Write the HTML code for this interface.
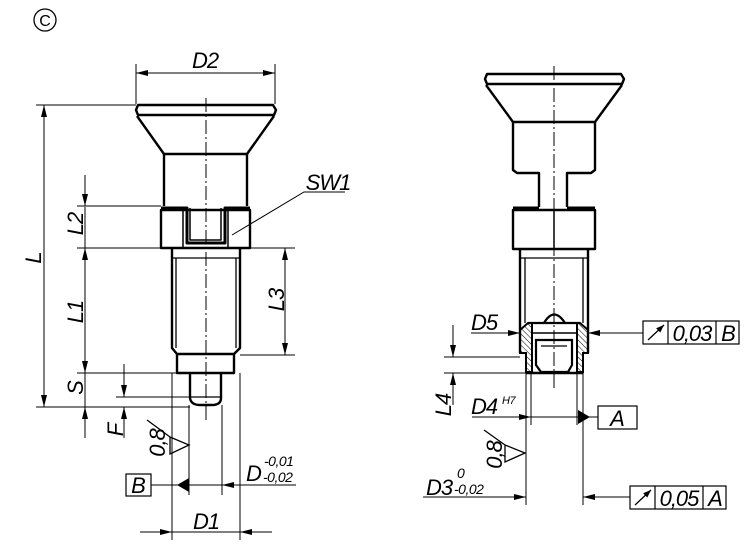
<!DOCTYPE html>
<html><head><meta charset="utf-8"><style>
html,body{margin:0;padding:0;background:#fff}
svg{display:block}
text{font-family:"Liberation Sans",sans-serif;font-style:italic;fill:#000}
</style></head><body>
<svg width="750" height="545" viewBox="0 0 750 545" xmlns="http://www.w3.org/2000/svg">
<defs>
<marker id="a" viewBox="0 0 12 6" refX="12" refY="3" markerWidth="12" markerHeight="6" orient="auto" markerUnits="userSpaceOnUse"><path d="M0,0 L12,3 L0,6 Z" fill="#000"/></marker>
<marker id="s" viewBox="0 0 8 6" refX="8" refY="3" markerWidth="8" markerHeight="6" orient="auto" markerUnits="userSpaceOnUse"><path d="M0,0 L8,3 L0,6 Z" fill="#000"/></marker>
<pattern id="h" width="4" height="4" patternUnits="userSpaceOnUse" patternTransform="rotate(-45)"><line x1="0" y1="0" x2="0" y2="4" stroke="#000" stroke-width="1"/></pattern>
</defs>
<circle cx="45" cy="20" r="11" fill="none" stroke="#000" stroke-width="1.3"/>
<text x="45" y="26" font-size="16" text-anchor="middle" style="font-style:normal">C</text>

<g fill="none" stroke="#000" stroke-width="2.4" stroke-linejoin="round">
<path d="M138,105 H273 L276,110 L274,115 H138 L136,110 Z"/>
<path d="M137,116 L164,154 H247 L274,116"/>
<path d="M164,154 V206 M247,154 V206"/>
<path d="M161,210 H250 V248 H161 Z"/>
<path d="M161,208 H187 V243 H225 V208 H250" stroke-width="3"/>
<path d="M190,208 V240 H221 V208" stroke-width="1.5"/>
<path d="M183,211 V247 M228,211 V247" stroke-width="1.5"/>
<path d="M172,248 V348 L177,354 H234 L240,348 V248"/>
<path d="M172,258 H240 M176,258 V348 M236,258 V348" stroke-width="1.3"/>
<path d="M177,354 V373 H234 V354"/>
<path d="M190,373 V398 Q191,405 200,405 H212 Q221,405 221,398 V373"/>
<path d="M190,397 H221" stroke-width="1.3"/>
<path d="M487,74 H621 L624,79 L622,84 H487 L485,79 Z"/>
<path d="M486,85 L513,122 H595 L622,85"/>
<path d="M513,122 V170 L517,173 H539 V207 M595,122 V170 L591,173 H567 V207"/>
<path d="M513,210 H595 V249 H513 Z"/>
<path d="M513,208 H539 M567,208 H595" stroke-width="3"/>
<path d="M554,210 V249" stroke-width="1.5"/>
<path d="M520,249 V353 M588,249 V353"/>
<path d="M520,258 H588 M525,258 V323 M583,258 V323" stroke-width="1.3"/>
</g>
<path d="M520,330 L528,323 H532 V372 H526 V353 H520 Z" fill="url(#h)" stroke="#000" stroke-width="2"/>
<path d="M588,330 L580,323 H577 V372 H583 V353 H588 Z" fill="url(#h)" stroke="#000" stroke-width="2"/>
<g fill="none" stroke="#000" stroke-width="2.2">
<path d="M528,323 H580"/>
<path d="M544,323 Q554,306 565,323"/>
<path d="M532,333 H577" stroke-width="1.5"/>
<path d="M536,340 H572 V365 L568,372 H541 L536,365 Z"/>
<path d="M541,346 H567" stroke-width="1.3"/>
<path d="M526,373 H583" stroke-width="2.6"/>
</g>
<g stroke="#000" stroke-width="1" stroke-dasharray="14,3,2,3" fill="none">
<path d="M206,98 V420"/>
<path d="M554,66 V388"/>
</g>

<g stroke="#000" stroke-width="1" fill="none">
<path d="M136,64 V104 M275,64 V104"/>
<path d="M160,73 H136" marker-end="url(#a)"/><path d="M250,73 H275" marker-end="url(#a)"/><path d="M160,73 H250"/>
<path d="M36,105 H136 M36,407 H190"/>
<path d="M44,250 V105" marker-end="url(#a)"/><path d="M44,250 V407" marker-end="url(#a)"/>
<path d="M77,206 H161 M77,248 H295 M77,373 H177 M240,355 H295"/>
<path d="M85,175 V206" marker-end="url(#a)"/>
<path d="M85,300 V248" marker-end="url(#a)"/><path d="M85,300 V373" marker-end="url(#a)"/>
<path d="M85,438 V407" marker-end="url(#a)"/>
<path d="M85,207 V248 M85,373 V407"/>
<path d="M285,300 V248" marker-end="url(#a)"/><path d="M285,300 V355" marker-end="url(#a)"/>
<path d="M124,364 V397" marker-end="url(#a)"/><path d="M124,438 V407" marker-end="url(#a)"/>
<path d="M116,397 H190"/>
<path d="M345,192 H304 L232,235"/>
<path d="M172,373 V540 M240,373 V540 M189,405 V495 M222,405 V495"/>
<path d="M140,532 H172" marker-end="url(#a)"/><path d="M272,532 H240" marker-end="url(#a)"/><path d="M172,532 H240"/>
<path d="M151,485 H296"/><path d="M260,485 H222" marker-end="url(#a)"/>
<path d="M147,420 L170,437 M170,437 L189,445 L170,454 Z" stroke-width="1.3"/>
<rect x="126" y="474" width="25" height="22" stroke-width="1.2"/>
<path d="M444,357 H520 M444,373 H526"/>
<path d="M453,325 V357" marker-end="url(#a)"/><path d="M453,405 V373" marker-end="url(#a)"/>
<path d="M471,333 H520" marker-end="url(#a)"/><path d="M610,333 H588" marker-end="url(#a)"/><path d="M588,333 H643"/>
<path d="M526,373 V505 M583,373 V505 M531,373 V425 M577,373 V425"/>
<path d="M472,417 H531" marker-end="url(#a)"/><path d="M531,417 H598"/>
<path d="M423,497 H526" marker-end="url(#a)"/><path d="M630,497 H583" marker-end="url(#a)"/>
<path d="M484,430 L505,445 M505,445 L525,453 L505,462 Z" stroke-width="1.3"/>
<rect x="643" y="321" width="96" height="23" stroke-width="1.2"/><path d="M668,321 V344 M716,321 V344" stroke-width="1.2"/>
<rect x="598" y="406" width="39" height="23" stroke-width="1.2"/>
<rect x="630" y="486" width="96" height="23" stroke-width="1.2"/><path d="M655,486 V509 M703,486 V509" stroke-width="1.2"/>
<path d="M648,340 L664,325" stroke-width="1.3" marker-end="url(#s)"/>
<path d="M635,505 L651,490" stroke-width="1.3" marker-end="url(#s)"/>
</g>
<path d="M189,478 V492 L177,485 Z"/>
<path d="M578,410 V424 L590,417 Z"/>

<g font-size="22" letter-spacing="-1">
<text x="205" y="68" text-anchor="middle">D2</text>
<text x="328" y="190" text-anchor="middle">SW1</text>
<text transform="translate(41,258) rotate(-90)" text-anchor="middle">L</text>
<text transform="translate(83,224) rotate(-90)" text-anchor="middle">L2</text>
<text transform="translate(83,312) rotate(-90)" text-anchor="middle">L1</text>
<text transform="translate(83,388) rotate(-90)" text-anchor="middle">S</text>
<text transform="translate(123,430) rotate(-90)" text-anchor="middle">F</text>
<text transform="translate(284,300) rotate(-90)" text-anchor="middle">L3</text>
<text transform="translate(165,443) rotate(-90)" text-anchor="middle">0,8</text>
<text x="138" y="493" text-anchor="middle">B</text>
<text x="246" y="481">D</text>
<text x="206" y="529" text-anchor="middle">D1</text>
<text x="471" y="330">D5</text>
<text x="471" y="414">D4</text>
<text transform="translate(451,405) rotate(-90)" text-anchor="middle">L4</text>
<text transform="translate(502,455) rotate(-90)" text-anchor="middle">0,8</text>
<text x="426" y="495">D3</text>
<text x="617" y="426" text-anchor="middle">A</text>
<text x="692" y="341" text-anchor="middle">0,03</text>
<text x="728" y="341" text-anchor="middle">B</text>
<text x="679" y="506" text-anchor="middle">0,05</text>
<text x="715" y="506" text-anchor="middle">A</text>
</g>
<g font-size="14" letter-spacing="-0.5">
<text x="264" y="466">-0,01</text>
<text x="263" y="482">-0,02</text>
<text x="502" y="404" font-size="11">H7</text>
<text x="457" y="478">0</text>
<text x="454" y="494">-0,02</text>
</g>
</svg>
</body></html>
